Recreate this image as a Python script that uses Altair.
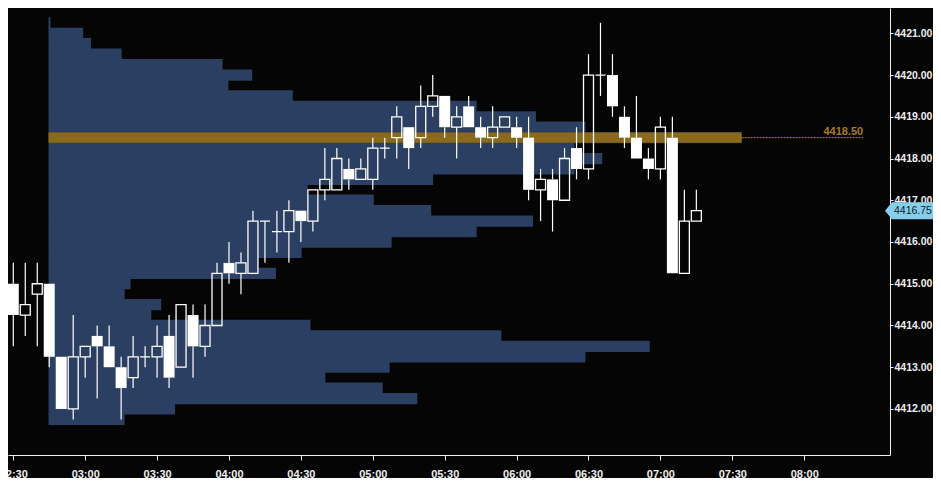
import pandas as pd
import altair as alt

# 5-minute bars, first bar at 02:30
BAR_START = "02:30"
BAR_MINUTES = 5
OPEN = [4415.00, 4414.25, 4414.75, 4415.00, 4413.25, 4412.00, 4413.25, 4413.75, 4413.50, 4413.00,
        4412.75, 4413.25, 4413.25, 4413.75, 4413.00, 4414.25, 4413.50, 4414.00, 4415.50, 4415.25,
        4415.25, 4416.50, 4416.25, 4416.25, 4416.75, 4416.50, 4417.25, 4417.25, 4417.75, 4417.50,
        4417.50, 4418.25, 4418.50, 4418.75, 4418.50, 4419.25, 4419.50, 4418.75, 4419.25, 4418.75,
        4418.50, 4418.75, 4418.75, 4418.50, 4417.25, 4417.50, 4417.00, 4418.25, 4417.75, 4420.00,
        4420.00, 4419.00, 4418.50, 4418.00, 4417.75, 4418.50, 4415.25, 4416.50]
HIGH = [4415.50, 4415.50, 4415.50, 4415.00, 4413.25, 4414.25, 4413.50, 4414.00, 4414.00, 4413.25,
        4413.75, 4413.50, 4414.00, 4414.25, 4414.50, 4414.50, 4414.50, 4415.50, 4416.00, 4415.75,
        4416.75, 4416.50, 4416.75, 4417.00, 4416.75, 4417.25, 4418.25, 4418.25, 4418.00, 4418.00,
        4418.50, 4418.50, 4419.25, 4418.75, 4419.75, 4420.00, 4419.50, 4419.25, 4419.50, 4419.00,
        4419.25, 4419.00, 4419.00, 4419.00, 4417.75, 4417.75, 4418.25, 4418.75, 4420.50, 4421.25,
        4420.50, 4419.25, 4419.50, 4418.25, 4419.00, 4419.00, 4417.25, 4417.25]
LOW = [4413.50, 4413.75, 4413.50, 4413.00, 4412.00, 4411.75, 4412.75, 4412.25, 4413.00, 4411.75,
       4412.50, 4413.00, 4412.75, 4412.50, 4413.00, 4412.75, 4413.25, 4414.00, 4415.00, 4414.75,
       4415.25, 4415.50, 4415.75, 4415.50, 4416.00, 4416.25, 4417.00, 4417.25, 4417.25, 4417.50,
       4417.25, 4418.00, 4418.00, 4417.75, 4418.25, 4419.00, 4418.50, 4418.00, 4418.75, 4418.25,
       4418.25, 4418.75, 4418.25, 4417.00, 4416.50, 4416.25, 4417.00, 4417.50, 4417.50, 4419.50,
       4419.00, 4418.25, 4418.00, 4417.50, 4417.50, 4415.25, 4415.25, 4416.50]
CLOSE = [4414.25, 4414.50, 4415.00, 4413.25, 4412.00, 4413.25, 4413.50, 4413.50, 4413.00, 4412.50,
         4413.25, 4413.25, 4413.50, 4412.75, 4414.50, 4413.50, 4414.00, 4415.25, 4415.25, 4415.50,
         4416.50, 4416.50, 4416.25, 4416.75, 4416.50, 4417.25, 4417.50, 4418.00, 4417.50, 4417.75,
         4418.25, 4418.25, 4419.00, 4418.25, 4419.25, 4419.50, 4418.75, 4419.00, 4418.75, 4418.50,
         4418.75, 4419.00, 4418.50, 4417.25, 4417.50, 4417.00, 4418.00, 4417.75, 4420.00, 4420.00,
         4419.25, 4418.50, 4418.00, 4417.75, 4418.75, 4415.25, 4416.50, 4416.75]

# volume profile, one row per 0.25 tick
PROFILE_PRICES = [4421.25, 4421.00, 4420.75, 4420.50, 4420.25, 4420.00, 4419.75, 4419.50, 4419.25, 4419.00,
                  4418.75, 4418.50, 4418.25, 4418.00, 4417.75, 4417.50, 4417.25, 4417.00, 4416.75, 4416.50,
                  4416.25, 4416.00, 4415.75, 4415.50, 4415.25, 4415.00, 4414.75, 4414.50, 4414.25, 4414.00,
                  4413.75, 4413.50, 4413.25, 4413.00, 4412.75, 4412.50, 4412.25, 4412.00, 4411.75]
PROFILE_VOLUMES = [4, 70, 86, 148, 352, 412, 364, 494, 866, 986,
                   1086, 1402, 1064, 1120, 1064, 778, 524, 658, 774, 980,
                   866, 694, 512, 424, 460, 166, 154, 228, 208, 530,
                   916, 1216, 1086, 690, 560, 676, 746, 256, 154]
PROFILE_START = 164.7   # minutes after midnight
PROFILE_SPAN = 289.2    # minutes covered by the largest row
POC_LINE_END = 504.6

TIME_TICKS = ["02:30", "03:00", "03:30", "04:00", "04:30", "05:00", "05:30",
              "06:00", "06:30", "07:00", "07:30", "08:00"]
PRICE_TICKS = [4412, 4413, 4414, 4415, 4416, 4417, 4418, 4419, 4420, 4421]

BG = "#050505"
BLUE = "#2a3f61"
GOLD = "#8b691a"
FONT = "Liberation Sans"

W, H = 882, 447
PX_PER_MIN = 2.4242


def to_minutes(hhmm):
    h, m = hhmm.split(":")
    return int(h) * 60 + int(m)


start = to_minutes(BAR_START)
bars = pd.DataFrame({
    "t": [start + i * BAR_MINUTES for i in range(len(OPEN))],
    "open": OPEN, "high": HIGH, "low": LOW, "close": CLOSE,
})
bars["top"] = bars[["open", "close"]].max(axis=1)
bars["bot"] = bars[["open", "close"]].min(axis=1)
down = bars[bars["close"] < bars["open"]]
up = bars[bars["close"] >= bars["open"]]

prof = pd.DataFrame({"price": PROFILE_PRICES, "volume": PROFILE_VOLUMES})
max_vol = prof["volume"].max()
# rows overlap a hair so no seams show between ticks
prof["lo"] = prof["price"] - 0.135
prof["hi"] = prof["price"] + 0.135
prof["x0"] = PROFILE_START
prof["x1"] = PROFILE_START + prof["volume"] / max_vol * PROFILE_SPAN
poc = prof[prof["volume"] == max_vol].copy()
poc["lo"] = poc["price"] - 0.125
poc["hi"] = poc["price"] + 0.125
poc["xe"] = POC_LINE_END
poc["label"] = poc["price"].map(lambda v: f"{v:.2f}")

last = pd.DataFrame({"price": [CLOSE[-1]], "label": [f"{CLOSE[-1]:.2f}"]})

x_lo = 149.88
xs = alt.Scale(domain=[x_lo, x_lo + W / PX_PER_MIN], nice=False, zero=False)
ys = alt.Scale(domain=[4410.897, 4421.606], nice=False, zero=False)
x_axis = alt.Axis(
    values=[to_minutes(t) for t in TIME_TICKS],
    labelExpr="format(floor(datum.value / 60), '02d') + ':' + format(datum.value % 60, '02d')",
    title=None, grid=False, tickSize=5, labelPadding=8, orient="bottom",
    labelOverlap=False, labelFlush=False, labelFontSize=11,
)
y_axis = alt.Axis(values=PRICE_TICKS, format=".2f", title=None, grid=False,
                  tickSize=3, labelPadding=1, orient="right", labelOverlap=False,
                  labelFontSize=10.5)

profile = alt.Chart(prof).mark_rect(color=BLUE).encode(
    x=alt.X("x0:Q", scale=xs, axis=x_axis), x2="x1:Q",
    y=alt.Y("lo:Q", scale=ys, axis=y_axis), y2="hi:Q",
)
poc_bar = alt.Chart(poc).mark_rect(color=GOLD).encode(
    x=alt.X("x0:Q", scale=xs, axis=x_axis), x2="x1:Q",
    y=alt.Y("lo:Q", scale=ys, axis=y_axis), y2="hi:Q",
)
poc_line = alt.Chart(poc).mark_rule(color="#b8861a", strokeWidth=1, strokeDash=[2, 1]).encode(
    x=alt.X("x1:Q", scale=xs, axis=x_axis), x2="xe:Q",
    y=alt.Y("price:Q", scale=ys, axis=y_axis),
)
poc_text = alt.Chart(poc).mark_text(
    align="right", baseline="alphabetic", dy=-3, font=FONT, fontSize=11,
    fontWeight="bold", color="#a67c1c",
).encode(
    x=alt.X("xe:Q", scale=xs, axis=x_axis),
    y=alt.Y("price:Q", scale=ys, axis=y_axis),
    text="label:N",
)

upper_wick = alt.Chart(bars).mark_rule(color="white", strokeWidth=1.2).encode(
    x=alt.X("t:Q", scale=xs, axis=x_axis),
    y=alt.Y("high:Q", scale=ys, axis=y_axis), y2="top:Q",
)
lower_wick = alt.Chart(bars).mark_rule(color="white", strokeWidth=1.2).encode(
    x=alt.X("t:Q", scale=xs, axis=x_axis),
    y=alt.Y("bot:Q", scale=ys, axis=y_axis), y2="low:Q",
)
down_body = alt.Chart(down).mark_bar(size=11, color="white").encode(
    x=alt.X("t:Q", scale=xs, axis=x_axis),
    y=alt.Y("top:Q", scale=ys, axis=y_axis), y2="bot:Q",
)
up_body = alt.Chart(up).mark_bar(size=10, fillOpacity=0, stroke="white", strokeWidth=1.3).encode(
    x=alt.X("t:Q", scale=xs, axis=x_axis),
    y=alt.Y("top:Q", scale=ys, axis=y_axis), y2="bot:Q",
)

# last-price tag sitting on the right axis
tag_shape = "M-1,0 L-0.71,-0.354 L1,-0.354 L1,0.354 L-0.71,0.354 Z"
price_tag = alt.Chart(last).mark_point(
    shape=tag_shape, size=2304, filled=True, fill="#87ceeb", opacity=1, strokeWidth=0,
).encode(
    x=alt.value(901),
    y=alt.Y("price:Q", scale=ys, axis=y_axis),
)
price_text = alt.Chart(last).mark_text(
    align="left", baseline="middle", font=FONT, fontSize=10.5, color="#0e1c28",
).encode(
    x=alt.value(886),
    y=alt.Y("price:Q", scale=ys, axis=y_axis),
    text="label:N",
)

chart = alt.layer(
    profile, poc_bar, poc_line, poc_text,
    upper_wick, lower_wick, down_body, up_body,
    price_tag, price_text,
).properties(
    width=W, height=H,
    autosize=alt.AutoSizeParams(type="none"),
    padding={"left": 0, "top": 0, "right": 43, "bottom": 23},
    background=BG,
).configure_view(
    stroke="transparent"
).configure_axis(
    domainColor="#f0f0f0", domainWidth=1,
    tickColor="#f0f0f0", tickWidth=1,
    labelColor="#eeeeee", labelFont=FONT, labelFontWeight="bold",
)

chart.save("out.html", embed_options={"renderer": "svg", "actions": False})
